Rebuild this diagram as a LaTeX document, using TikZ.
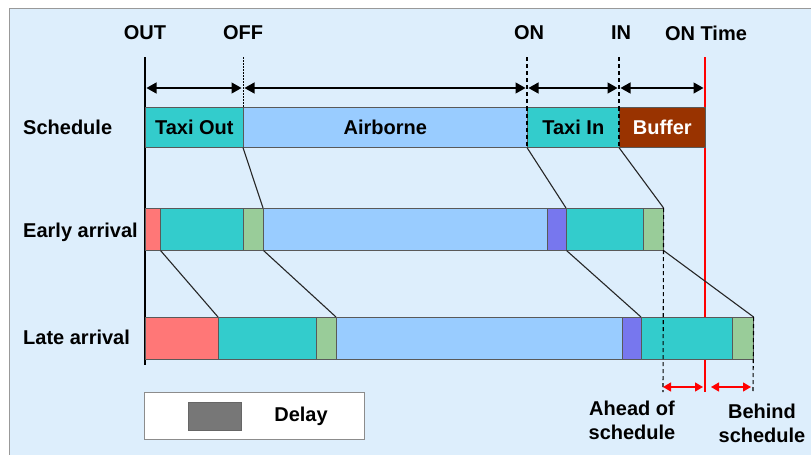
\documentclass[tikz,border=0pt]{standalone}
\usepackage{fontspec}
\setmainfont{Liberation Sans}
\usetikzlibrary{arrows.meta}

\definecolor{panel}{HTML}{DDEEFC}
\definecolor{taxi}{HTML}{33CCCC}
\definecolor{air}{HTML}{99CCFF}
\definecolor{buffer}{HTML}{993300}
\definecolor{lateout}{HTML}{FF7777}
\definecolor{holdcol}{HTML}{99CC99}
\definecolor{stackcol}{HTML}{7777EE}
\definecolor{delaycol}{HTML}{777777}

% one coloured stretch of a timeline bar: colour, x from, x to, y top, y bottom, name
\newcommand\barpart[6]{%
  \node[segbox, fill=#1, minimum width={#3-#2}, minimum height={#5-#4}] (#6) at (#2,#4) {};}

\begin{document}
\begin{tikzpicture}[x=1pt, y=-1pt,
  font=\bfseries\fontsize{20}{24}\selectfont,
  segbox/.style={draw=black!65, line width=0.6pt, inner sep=0pt, anchor=north west},
  barlabel/.style={inner sep=0pt},
  rowlabel/.style={anchor=west, inner sep=0pt},
  ticklabel/.style={inner sep=0pt},
  span/.style={line width=1.3pt, {Triangle[length=10pt,width=11pt]}-{Triangle[length=10pt,width=11pt]}, shorten <=1.5pt, shorten >=1.5pt},
  redspan/.style={red, line width=1.3pt, {Triangle[length=8pt,width=9pt]}-{Triangle[length=8pt,width=9pt]}},
  link/.style={line width=1.1pt, black!85},
  tickdash/.style={line width=1.1pt, dash pattern=on 4pt off 3pt},
]
\useasboundingbox (0,0) rectangle (811,455);

% panel
\draw[fill=panel, draw=black!40, line width=0.8pt] (9,8) rectangle (840,480);

% milestone labels
\node[ticklabel] (lOut) at (145,33) {OUT};
\node[ticklabel] (lOff) at (243,33) {OFF};
\node[ticklabel] (lOn)  at (529,33) {ON};
\node[ticklabel] (lIn)  at (621,33) {IN};
\node[ticklabel] (lOnT) at (706,33) {ON Time};

% tick tops, arrow row and bottom ends
\coordinate (tOut)  at (145,57);
\coordinate (tOff)  at (243,57);
\coordinate (tOn)   at (527,57);
\coordinate (tIn)   at (619,57);
\coordinate (tOnT)  at (705,57);
\coordinate (aOut)  at (145,88);
\coordinate (aOff)  at (243,88);
\coordinate (aOn)   at (527,88);
\coordinate (aIn)   at (619,88);
\coordinate (aOnT)  at (705,88);
\coordinate (bOut)  at (145,365);
\coordinate (bOnT)  at (705,392);
\coordinate (bEarly) at (663,392);
\coordinate (bLate)  at (753,392);

% schedule deadline in red
\draw[red, line width=1.8pt] (tOnT) -- (bOnT);

% time axis
\draw[line width=1.3pt] (tOut) -- (bOut);

% schedule bar
\barpart{taxi}{145}{243}{107}{147}{sTO}
\barpart{air}{243}{527}{107}{147}{sAB}
\barpart{taxi}{527}{619}{107}{147}{sTI}
\barpart{buffer}{619}{705}{107}{147}{sBF}
\node[barlabel] at (sTO) {Taxi Out};
\node[barlabel] at (sAB) {Airborne};
\node[barlabel] at (sTI) {Taxi In};
\node[barlabel, text=white] at (sBF) {Buffer};

% milestone ticks
\draw[line width=0.9pt, dash pattern=on 1.5pt off 1.5pt] (tOff) -- (sAB.north west);
\draw[tickdash] (tOn) -- (sTI.north west);
\draw[tickdash] (tIn) -- (sBF.north west);
\draw[tickdash] (sTI.north west) -- (sTI.south west);
\draw[tickdash] (sBF.north west) -- (sBF.south west);

% spans between milestones
\draw[span] (aOut) -- (aOff);
\draw[span] (aOff) -- (aOn);
\draw[span] (aOn) -- (aIn);
\draw[span] (aIn) -- (aOnT);

% early arrival bar
\barpart{lateout}{145}{160}{208}{250}{eR}
\barpart{taxi}{160}{243}{208}{250}{eTO}
\barpart{holdcol}{243}{263}{208}{250}{eH}
\barpart{air}{263}{547}{208}{250}{eAB}
\barpart{stackcol}{547}{566}{208}{250}{eS}
\barpart{taxi}{566}{643}{208}{250}{eTI}
\barpart{holdcol}{643}{663}{208}{250}{eH2}

% late arrival bar
\barpart{lateout}{145}{218}{317}{359}{lR}
\barpart{taxi}{218}{316}{317}{359}{lTO}
\barpart{holdcol}{316}{336}{317}{359}{lH}
\barpart{air}{336}{622}{317}{359}{lAB}
\barpart{stackcol}{622}{641}{317}{359}{lS}
\barpart{taxi}{641}{732}{317}{359}{lTI}
\barpart{holdcol}{732}{753}{317}{359}{lH2}

% projections from row to row
\draw[link] (sAB.south west) -- (eAB.north west);
\draw[link] (sTI.south west) -- (eTI.north west);
\draw[link] (sBF.south west) -- (eH2.north east);
\draw[link] (eR.south east) -- (lTO.north west);
\draw[link] (eH.south east) -- (lAB.north west);
\draw[link] (eS.south east) -- (lTI.north west);
\draw[link] (eH2.south east) -- (lH2.north east);

% arrival markers
\draw[tickdash] (eH2.north east) -- (bEarly);
\draw[tickdash] (lH2.north east) -- (bLate);

% deviation from schedule
\coordinate (rA1) at (663,387);
\coordinate (rA2) at (703,387);
\coordinate (rB1) at (711,387);
\coordinate (rB2) at (751,387);
\draw[redspan] (rA1) -- (rA2);
\draw[redspan] (rB1) -- (rB2);
\node[align=center, inner sep=0pt] (ahead) at (632,420) {Ahead of\\schedule};
\node[align=center, inner sep=0pt] (behind) at (762,423) {Behind\\schedule};

% row labels
\node[rowlabel] (rSched) at (23,127) {Schedule};
\node[rowlabel] (rEarly) at (23,232) {Early arrival};
\node[rowlabel] (rLate)  at (23,337) {Late arrival};

% legend
\node[draw=black!45, fill=white, line width=0.8pt, inner sep=0pt,
      minimum width=220, minimum height=47, anchor=north west] (legend) at (144,392) {};
\node[draw=black!60, fill=delaycol, line width=0.6pt, inner sep=0pt,
      minimum width=53, minimum height=28, anchor=north west] (swatch) at (188,402) {};
\node[inner sep=0pt] (delaytxt) at (301,416) {Delay};
\end{tikzpicture}
\end{document}
